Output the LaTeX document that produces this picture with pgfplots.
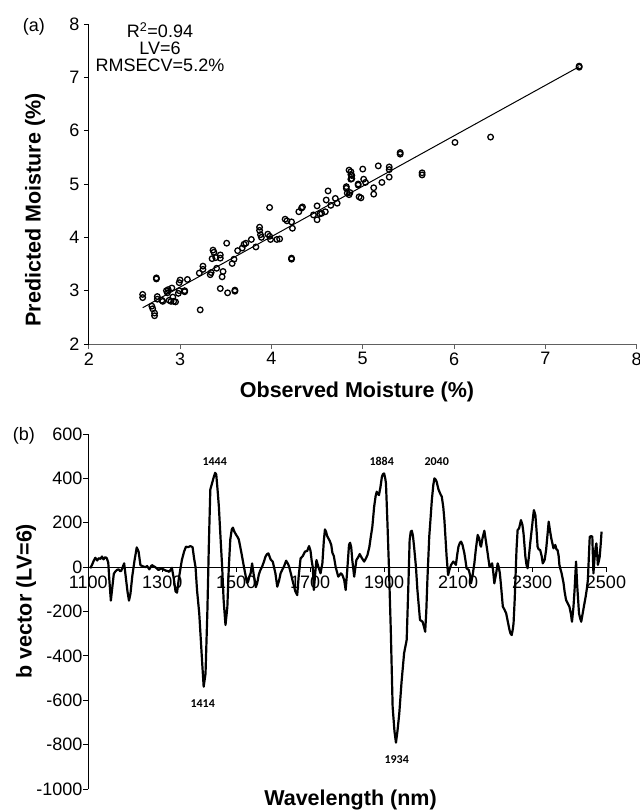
\documentclass[border=0pt]{standalone}
\usepackage{fontspec}
\setmainfont{Liberation Sans}
\newfontfamily\calib{Carlito}
\usepackage{pgfplots}
\pgfplotsset{compat=1.18}
\begin{document}
\begin{tikzpicture}
\path[use as bounding box] (0pt,0pt) rectangle (640pt,-812pt);
% ---------------- (a) ----------------
\begin{axis}[
  at={(88.8pt,-344pt)}, anchor=south west,
  scale only axis, width=547.9pt, height=320pt,
  xmin=2, xmax=8, ymin=2, ymax=8,
  xtick={2,3,...,8}, ytick={2,3,...,8},
  axis x line=bottom, axis y line=left,
  axis line style={-},
  x axis line style={gray!75!black, line width=1pt},
  y axis line style={black, line width=1.2pt},
  tick align=outside, major tick length=5pt,
  tick style={black, line width=1pt},
  xtick style={gray!75!black},
  ticklabel style={font=\fontsize{18}{20}\selectfont},
  yticklabel style={xshift=-1pt},
  /pgf/number format/assume math mode=true,
  clip=false,
]
\addplot[black, line width=1pt] coordinates {(2.59,2.68) (7.37,7.20)};
\addplot[only marks, mark=o, mark size=2.8pt, mark options={black, line width=1.3pt}] coordinates {
(2.59,2.93) (2.59,2.87)
(2.69,2.71) (2.70,2.66) (2.72,2.58) (2.72,2.53)
(2.74,3.24) (2.74,3.22)
(2.75,2.89) (2.75,2.84)
(2.81,2.80) (2.80,2.82)
(2.85,3.00) (2.86,2.96) (2.87,3.02)
(2.88,2.82) (2.90,2.80) (2.92,2.88) (2.93,2.80) (2.91,3.05) (2.95,2.79)
(2.98,2.95) (2.99,3.00) (3.00,3.20) (2.99,3.15)
(3.05,2.98) (3.05,3.00)
(3.08,3.21)
(3.21,3.33)
(3.22,2.64)
(3.25,3.46) (3.25,3.40)
(3.33,3.30) (3.34,3.34)
(3.36,3.76) (3.37,3.72)
(3.35,3.60) (3.39,3.62)
(3.40,3.42)
(3.44,3.04)
(3.44,3.67) (3.44,3.61)
(3.46,3.26) (3.47,3.36)
(3.51,3.89)
(3.52,2.96)
(3.57,3.51) (3.59,3.59)
(3.60,3.01) (3.60,2.99)
(3.63,3.75)
(3.68,3.80) (3.70,3.87) (3.72,3.89)
(3.78,3.96)
(3.83,3.82)
(3.87,4.19) (3.87,4.13) (3.88,4.05) (3.89,4.00)
(3.96,4.06) (3.98,4.02) (3.99,3.96)
(3.98,4.56)
(4.06,3.96) (4.09,3.97)
(4.15,4.34) (4.17,4.31)
(4.22,4.29) (4.23,4.17)
(4.22,3.61) (4.22,3.59)
(4.30,4.48) (4.33,4.55) (4.34,4.57)
(4.46,4.42) (4.50,4.33) (4.50,4.59) (4.53,4.44) (4.55,4.45) (4.59,4.48)
(4.65,4.60) (4.72,4.64)
(4.62,4.87) (4.60,4.70) (4.70,4.73)
(4.82,4.95) (4.82,4.92)
(4.85,5.26) (4.87,5.18) (4.87,5.09)
(4.83,4.83) (4.85,4.80)
(4.95,5.00) (4.96,4.76)
(4.87,5.23) (4.88,5.16) (4.88,5.10)
(4.86,4.84) (4.95,4.98) (4.98,4.74) (5.00,5.28) (5.01,5.09) (5.03,5.03)
(5.12,4.93) (5.12,4.81) (5.17,5.34) (5.21,5.03)
(5.29,5.32) (5.29,5.27) (5.29,5.13)
(5.41,5.59) (5.41,5.56)
(5.65,5.21) (5.65,5.17)
(6.01,5.78) (6.40,5.88)
(7.37,7.21) (7.37,7.19)
};
\end{axis}
% ---------------- (b) ----------------
\begin{axis}[
  at={(88.3pt,-789pt)}, anchor=south west,
  scale only axis, width=517.7pt, height=355pt,
  xmin=1100, xmax=2500, ymin=-1000, ymax=600,
  xtick={1100,1300,...,2500}, ytick={-1000,-800,...,600},
  axis x line=middle, axis y line=left,
  axis line style={-},
  hide obscured x ticks=false, hide obscured y ticks=false,
  x axis line style={black, line width=0.8pt},
  y axis line style={black, line width=1.2pt},
  tick align=outside, major tick length=5pt,
  tick style={black, line width=1pt},
  ticklabel style={font=\fontsize{18}{20}\selectfont},
  yticklabel style={xshift=2.7pt},
  /pgf/number format/assume math mode=true,
  /pgf/number format/1000 sep={},
  clip=false,
]
\addplot[black, line width=2.2pt, line join=round] coordinates {
(1105,-5) (1110,10) (1115,30) (1119,42) (1124,30) (1128,40) (1133,37) (1137,48)
(1141,35) (1146,45) (1150,40) (1154,20) (1157,-60) (1161,-151) (1165,-90) (1169,-30)
(1173,-20) (1178,-12) (1182,-10) (1186,-18) (1189,-17) (1193,0) (1197,17) (1201,-40)
(1206,-110) (1210,-151) (1214,-120) (1219,-40) (1225,30) (1231,89) (1236,70) (1241,9)
(1246,5) (1250,2) (1255,0) (1259,5) (1265,-10) (1270,5) (1272,9) (1279,2) (1285,-5)
(1290,-13) (1295,-8) (1299,-6) (1305,-12) (1310,-16) (1315,-18) (1319,-21) (1326,-3)
(1331,-50) (1336,-110) (1340,-115) (1345,-50) (1353,32) (1359,70) (1364,92) (1370,90)
(1376,95) (1382,90) (1386,40) (1390,0) (1394,-103) (1400,-208) (1408,-432) (1412,-539)
(1417,-480) (1422,-200) (1426,100) (1430,350) (1435,380) (1440,410) (1443,425) (1446,418)
(1450,340) (1453,275) (1458,120) (1462,0) (1466,-150) (1471,-261) (1476,-180) (1480,0)
(1484,125) (1488,170) (1491,178) (1495,160) (1500,145) (1504,135) (1507,125) (1514,65)
(1521,0) (1525,-35) (1529,-70) (1532,-66) (1536,-40) (1539,-28) (1543,17) (1547,-30)
(1550,-58) (1553,-90) (1557,-70) (1561,-35) (1565,-15) (1570,2) (1575,25) (1579,47)
(1583,58) (1587,62) (1593,35) (1599,24) (1606,-28) (1611,-88) (1616,-60) (1620,-28)
(1625,-10) (1629,2) (1635,29) (1640,15) (1643,2) (1648,-30) (1652,-58) (1660,-110)
(1665,-126) (1669,-40) (1674,39) (1680,50) (1686,70) (1692,73) (1697,95) (1701,73)
(1704,30) (1707,0) (1710,-103) (1714,-20) (1717,32) (1722,2) (1728,-28) (1733,17)
(1737,120) (1740,170) (1743,160) (1746,140) (1753,118) (1757,100) (1760,65) (1764,50)
(1769,0) (1776,-43) (1780,-35) (1783,-28) (1787,-35) (1792,-58) (1796,-103) (1800,-20)
(1805,100) (1808,110) (1811,90) (1814,30) (1819,-43) (1825,32) (1830,45) (1834,59)
(1840,40) (1846,25) (1851,40) (1855,55) (1860,90) (1864,137) (1868,180) (1873,272)
(1877,320) (1880,340) (1883,330) (1886,325) (1890,360) (1894,407) (1897,420) (1900,422)
(1903,400) (1905,377) (1909,197) (1913,0) (1918,-283) (1923,-629) (1928,-740) (1932,-791)
(1936,-740) (1941,-659) (1947,-520) (1954,-388) (1961,-328) (1966,-58) (1969,122) (1972,160)
(1975,164) (1978,140) (1981,92) (1986,2) (1990,-103) (1994,-180) (1997,-238) (2004,-246)
(2008,-270) (2011,-291) (2014,-200) (2017,-58) (2022,137) (2026,230) (2029,302) (2033,370)
(2036,400) (2039,395) (2042,385) (2047,350) (2052,330) (2056,317) (2060,270) (2063,212)
(2066,130) (2069,47) (2073,-36) (2077,-10) (2081,10) (2087,25) (2090,20) (2094,10)
(2098,60) (2101,92) (2105,110) (2108,115) (2112,100) (2117,62) (2120,30) (2123,-5)
(2129,-13) (2133,-40) (2135,-73) (2139,-40) (2144,17) (2148,80) (2153,145) (2157,130)
(2160,100) (2162,92) (2166,130) (2171,164) (2175,120) (2180,62) (2185,2) (2189,10)
(2192,17) (2195,-20) (2198,-73) (2203,-28) (2207,17) (2210,0) (2213,-28) (2217,-100)
(2221,-178) (2225,-190) (2230,-208) (2235,-250) (2239,-283) (2242,-300) (2245,-306) (2248,-280)
(2250,-253) (2253,-150) (2255,-58) (2258,80) (2261,167) (2265,175) (2270,212) (2274,190)
(2277,152) (2282,47) (2285,10) (2288,-5) (2291,40) (2295,107) (2300,182) (2303,230)
(2305,257) (2309,235) (2312,170) (2315,92) (2318,80) (2322,77) (2326,50) (2329,17)
(2334,32) (2338,77) (2342,150) (2345,205) (2349,160) (2352,130) (2356,100) (2358,85)
(2363,100) (2366,80) (2369,77) (2372,50) (2374,10) (2377,-10) (2380,-28) (2385,-70)
(2388,-110) (2392,-148) (2397,-165) (2401,-178) (2405,-210) (2408,-246) (2412,-180) (2415,-103)
(2419,25) (2422,-80) (2427,-208) (2430,-230) (2433,-246) (2437,-208) (2441,-170) (2445,-133)
(2448,-100) (2451,-58) (2454,60) (2456,137) (2460,140) (2463,137) (2466,-28) (2469,40)
(2472,90) (2474,107) (2476,60) (2478,10) (2481,30) (2483,47) (2486,110) (2488,160)
};
\end{axis}
% ---------------- texts ----------------
\begin{scope}[every node/.style={inner sep=0pt}]
\node[anchor=base, font=\fontsize{18}{20}\selectfont] at (160pt,-37.5pt) {R\textsuperscript{2}=0.94};
\node[anchor=base, font=\fontsize{18}{20}\selectfont] at (160pt,-54.5pt) {LV=6};
\node[anchor=base, font=\fontsize{18}{20}\selectfont] at (160pt,-71.7pt) {RMSECV=5.2\%};
\node[anchor=base west, font=\fontsize{18}{20}\selectfont] at (22.7pt,-31pt) {(a)};
\node[anchor=base west, font=\fontsize{18}{20}\selectfont] at (12.7pt,-440pt) {(b)};
\node[rotate=90, font=\fontsize{21.5}{24}\selectfont\bfseries] at (35pt,-210pt) {Predicted Moisture (\%)};
\node[font=\fontsize{21.5}{24}\selectfont\bfseries] at (357pt,-392pt) {Observed Moisture (\%)};
\node[rotate=90, font=\fontsize{21.5}{24}\selectfont\bfseries] at (26pt,-601pt) {b vector (LV=6)};
\node[font=\fontsize{21.5}{24}\selectfont\bfseries] at (350.5pt,-800pt) {Wavelength (nm)};
\node[font=\calib\fontsize{12}{14}\selectfont\bfseries] at (214.7pt,-461.7pt) {1444};
\node[font=\calib\fontsize{12}{14}\selectfont\bfseries] at (381.7pt,-461.7pt) {1884};
\node[font=\calib\fontsize{12}{14}\selectfont\bfseries] at (436.7pt,-461.3pt) {2040};
\node[font=\calib\fontsize{12}{14}\selectfont\bfseries] at (202.7pt,-704pt) {1414};
\node[font=\calib\fontsize{12}{14}\selectfont\bfseries] at (396.7pt,-760pt) {1934};
\end{scope}
\end{tikzpicture}
\end{document}
